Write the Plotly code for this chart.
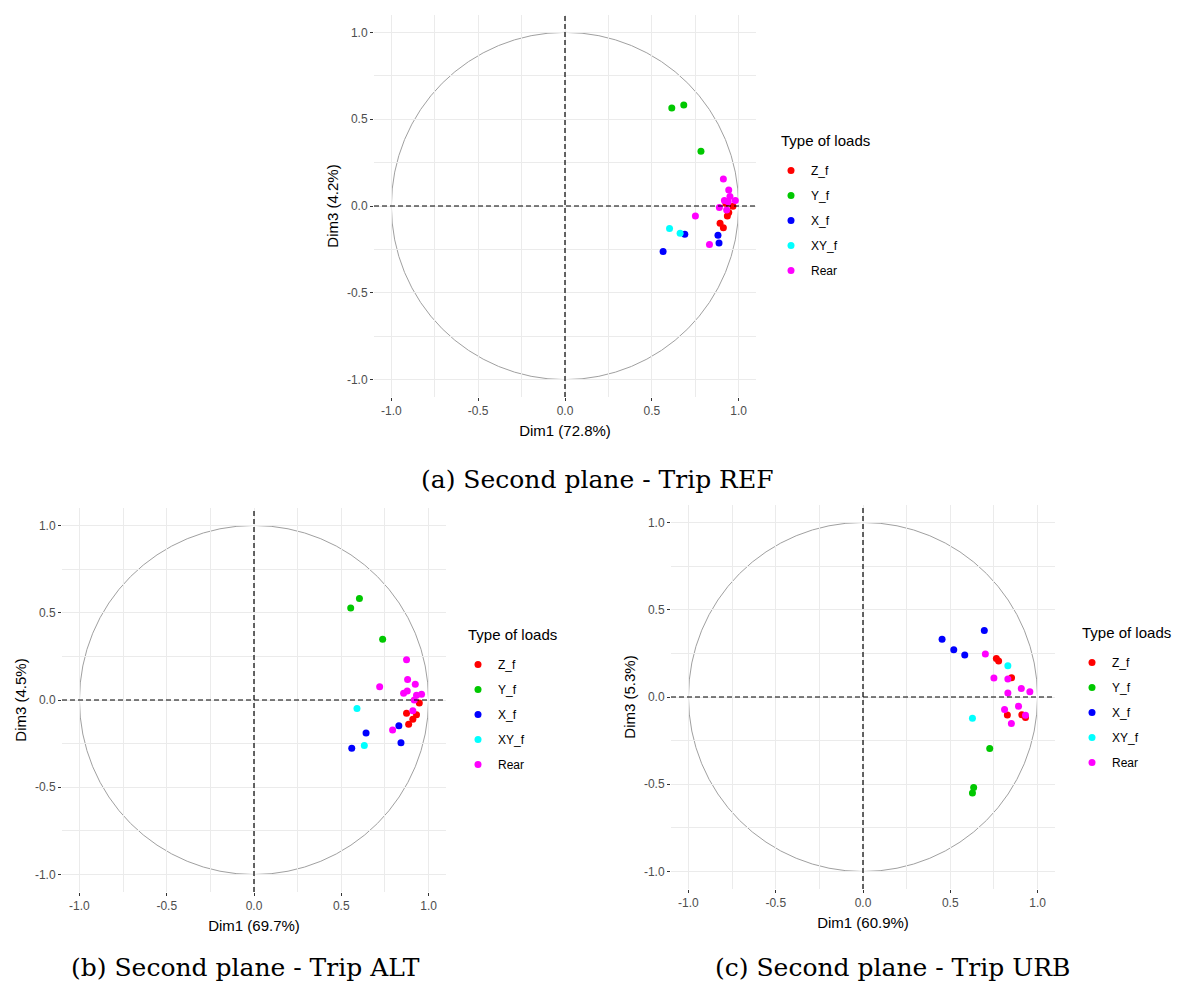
import plotly.graph_objects as go

# ---------------- data ----------------
type_order = ["Z_f", "Y_f", "X_f", "XY_f", "Rear"]
type_colors = ["#FF0000", "#00C800", "#0000FF", "#00FFFF", "#FF00FF"]

ref_type = ["Z_f"] * 6 + ["Y_f"] * 3 + ["X_f"] * 4 + ["XY_f"] * 2 + ["Rear"] * 10
ref_dim1 = [0.927, 0.967, 0.943, 0.935, 0.893, 0.912,
            0.615, 0.684, 0.783,
            0.881, 0.887, 0.690, 0.565,
            0.602, 0.663,
            0.912, 0.943, 0.950, 0.918, 0.981, 0.889, 0.931, 0.751, 0.832, 0.940]
ref_dim3 = [0.015, -0.002, -0.038, -0.057, -0.100, -0.125,
            0.565, 0.582, 0.316,
            -0.169, -0.213, -0.163, -0.262,
            -0.130, -0.157,
            0.155, 0.092, 0.054, 0.031, 0.031, -0.008, -0.023, -0.057, -0.222, 0.025]

alt_type = ["Z_f"] * 5 + ["Y_f"] * 3 + ["X_f"] * 4 + ["XY_f"] * 2 + ["Rear"] * 11
alt_dim1 = [0.947, 0.874, 0.931, 0.910, 0.886,
            0.604, 0.554, 0.737,
            0.830, 0.642, 0.842, 0.560,
            0.590, 0.632,
            0.874, 0.880, 0.924, 0.720, 0.878, 0.857, 0.931, 0.960, 0.918, 0.910, 0.794]
alt_dim3 = [-0.017, -0.076, -0.084, -0.111, -0.139,
            0.581, 0.527, 0.348,
            -0.147, -0.189, -0.245, -0.277,
            -0.048, -0.260,
            0.231, 0.118, 0.090, 0.076, 0.052, 0.038, 0.027, 0.033, 0.000, -0.061, -0.172]

urb_type = ["Z_f"] * 6 + ["Y_f"] * 3 + ["X_f"] * 4 + ["XY_f"] * 2 + ["Rear"] * 10
urb_dim1 = [0.764, 0.777, 0.851, 0.827, 0.910, 0.931,
            0.726, 0.634, 0.627,
            0.453, 0.695, 0.520, 0.583,
            0.830, 0.627,
            0.701, 0.750, 0.830, 0.830, 0.907, 0.956, 0.811, 0.891, 0.850, 0.931]
urb_dim3 = [0.221, 0.206, 0.110, -0.103, -0.101, -0.118,
            -0.295, -0.518, -0.550,
            0.331, 0.381, 0.270, 0.240,
            0.179, -0.122,
            0.247, 0.109, 0.103, 0.023, 0.048, 0.030, -0.071, -0.053, -0.152, -0.105]

tick_vals = [-1.0, -0.5, 0.0, 0.5, 1.0]
tick_text = ["-1.0", "-0.5", "0.0", "0.5", "1.0"]

panels = [
    dict(types=ref_type, d1=ref_dim1, d3=ref_dim3, xt="Dim1 (72.8%)", yt="Dim3 (4.2%)",
         caption="(a) Second plane - Trip REF"),
    dict(types=alt_type, d1=alt_dim1, d3=alt_dim3, xt="Dim1 (69.7%)", yt="Dim3 (4.5%)",
         caption="(b) Second plane - Trip ALT"),
    dict(types=urb_type, d1=urb_dim1, d3=urb_dim3, xt="Dim1 (60.9%)", yt="Dim3 (5.3%)",
         caption="(c) Second plane - Trip URB"),
]

# ---------------- layout geometry (page pixels) ----------------
W, H = 1180, 987
OX, OY = 8, 8   # page body margin offset
boxes = [(374, 756, 15, 397), (62, 446, 508, 892), (671, 1055, 505, 889)]
legend_title_pos = [(779, 141), (466, 634), (1080, 632)]
legend_first_item = [(779, 168), (466, 662), (1080, 660)]
caption_pos = [(597, 479), (245, 967), (892, 967)]


def px(x):
    return (x - OX) / W


def py(y):
    return 1 - (y - OY) / H


fig = go.Figure()
AX_FONT = "Liberation Sans, Arial, sans-serif"
GRID = "#EBEBEB"

for i, p in enumerate(panels):
    sfx = "" if i == 0 else str(i + 1)
    xa, ya = "x" + sfx, "y" + sfx
    leg = "legend" if i == 0 else "legend" + str(i + 1)
    for t, c in zip(type_order, type_colors):
        xs = [x for x, tt in zip(p["d1"], p["types"]) if tt == t]
        ys = [y for y, tt in zip(p["d3"], p["types"]) if tt == t]
        fig.add_trace(go.Scatter(
            x=xs, y=ys, mode="markers", name=t, xaxis=xa, yaxis=ya,
            marker=dict(color=c, size=7), legend=leg, legendgroup=f"{i}_{t}",
            showlegend=True, hoverinfo="skip"))

    l, r, t_, b = boxes[i]
    axis_common = dict(
        range=[-1.1, 1.1], tickvals=tick_vals, ticktext=tick_text,
        showgrid=True, gridcolor=GRID, gridwidth=1, zeroline=False,
        minor=dict(dtick=0.25, tick0=0, showgrid=True, gridcolor=GRID, gridwidth=0.7),
        ticks="outside", ticklen=3, tickcolor="#333333", tickwidth=1,
        tickfont=dict(family=AX_FONT, size=12, color="#4D4D4D"),
        showline=False, fixedrange=True, automargin=False,
    )
    fig.layout["xaxis" + sfx] = dict(
        axis_common, domain=[px(l), px(r)], anchor=ya,
        title=dict(text=p["xt"], font=dict(family=AX_FONT, size=15, color="#000000"), standoff=8))
    fig.layout["yaxis" + sfx] = dict(
        axis_common, domain=[py(b), py(t_)], anchor=xa,
        title=dict(text=p["yt"], font=dict(family=AX_FONT, size=15, color="#000000"), standoff=4))

    fig.add_shape(type="circle", xref=xa, yref=ya, x0=-1, x1=1, y0=-1, y1=1,
                  line=dict(color="#A0A0A0", width=1), layer="below")
    fig.add_shape(type="line", xref=xa, yref=ya, x0=-1.1, x1=1.1, y0=0, y1=0,
                  line=dict(color="#000000", width=1.2, dash="5px,3px"), layer="above")
    fig.add_shape(type="line", xref=xa, yref=ya, x0=0, x1=0, y0=-1.1, y1=1.1,
                  line=dict(color="#000000", width=1.2, dash="5px,3px"), layer="above")

    # legend title as a text annotation, legend items below it
    tx, ty = legend_title_pos[i]
    fig.add_annotation(text="Type of loads", xref="paper", yref="paper", x=px(tx), y=py(ty),
                       xanchor="left", yanchor="middle", showarrow=False,
                       font=dict(family=AX_FONT, size=15, color="#000000"))
    lx, ly = legend_first_item[i]
    fig.layout[leg] = dict(
        x=px(lx - 8), y=py(ly - 12), xanchor="left", yanchor="top",
        font=dict(family=AX_FONT, size=12, color="#000000"),
        bgcolor="rgba(0,0,0,0)", tracegroupgap=6)

    cx, cy = caption_pos[i]
    fig.add_annotation(text=p["caption"], xref="paper", yref="paper", x=px(cx), y=py(cy),
                       xanchor="center", yanchor="middle", showarrow=False,
                       font=dict(family="DejaVu Serif, Liberation Serif, serif", size=25, color="#000000"))

fig.update_layout(
    width=W, height=H, margin=dict(l=0, r=0, t=0, b=0, autoexpand=False),
    paper_bgcolor="white", plot_bgcolor="white",
)

fig.write_html("out.html")
